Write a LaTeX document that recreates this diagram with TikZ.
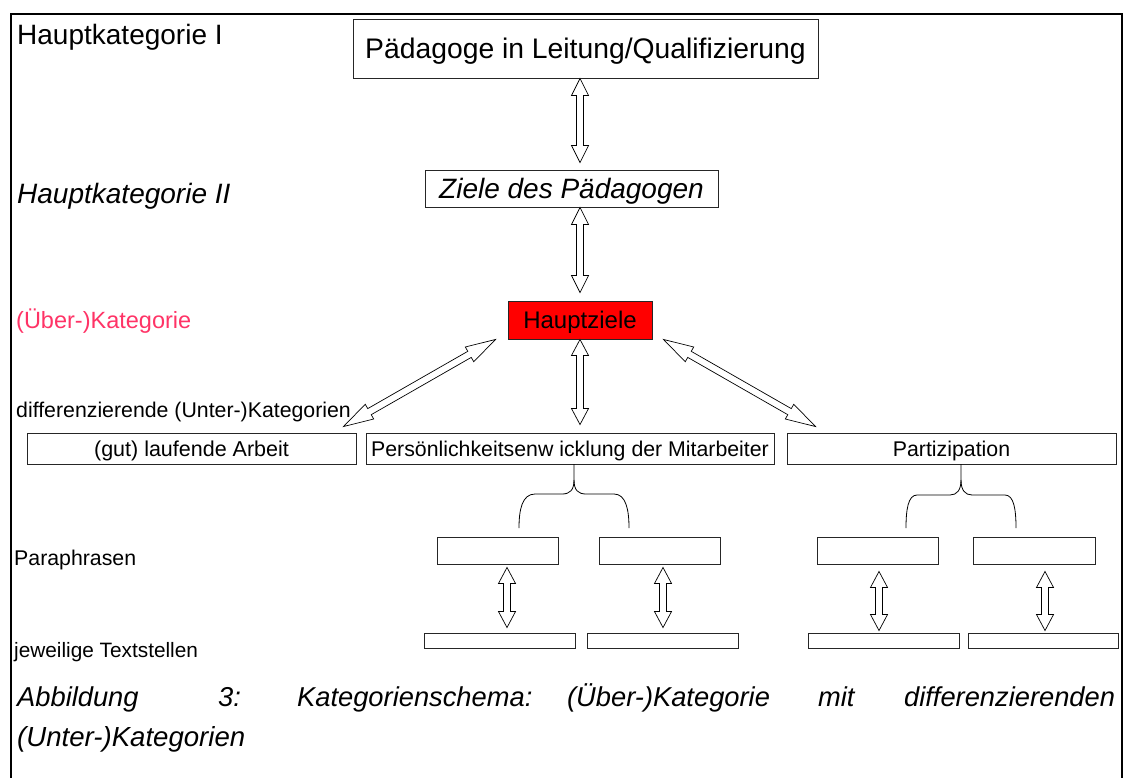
\documentclass[tikz,border=0pt]{standalone}
\usepackage{fontspec}
\setmainfont{Liberation Sans}
\usetikzlibrary{calc}
\definecolor{pinklab}{RGB}{255,51,102}
\definecolor{boxred}{RGB}{255,0,0}
\newcommand\fsz[1]{\fontsize{#1}{#1}\selectfont}
\newcommand\capword[2]{\makebox[#1][l]{#2 }}
\tikzset{
  box/.style={draw=black!85, line width=0.9pt, fill=white, rectangle, inner sep=0pt, anchor=center, text depth=0pt},
  lab/.style={anchor=base west, inner sep=0pt},
  blockarr/.style={draw=black, line width=0.7pt, fill=white, line join=miter},
  bracepath/.style={draw=black, line width=0.8pt},
}
% double-headed block arrow between two points: #1 start, #2 end, #3 head length
\newcommand\blockarrow[3]{%
  \path coordinate (hA) at ($(#1)!#3!(#2)$) coordinate (hB) at ($(#2)!#3!(#1)$);
  \draw[blockarr] (#1) -- ($(hA)!8.5pt!90:(#2)$) -- ($(hA)!3.5pt!90:(#2)$)
    -- ($(hB)!3.5pt!-90:(#1)$) -- ($(hB)!8.5pt!-90:(#1)$) -- (#2)
    -- ($(hB)!8.5pt!90:(#1)$) -- ($(hB)!3.5pt!90:(#1)$)
    -- ($(hA)!3.5pt!-90:(#2)$) -- ($(hA)!8.5pt!-90:(#2)$) -- cycle;}
\begin{document}
\begin{tikzpicture}[x=1pt,y=-1pt]
\useasboundingbox (0,0) rectangle (1123,778);
% frame
\draw[line width=2.5pt] (11,778) -- (11,14) -- (1122,14) -- (1122,778);

% level labels
\node[lab] (l1) at (17,45) {\fsz{28}Hauptkategorie I};
\node[lab] (l2) at (17,203) {\fsz{28}\itshape Hauptkategorie II};
\node[lab, text=pinklab] (l3) at (16,328) {\fsz{23.5}(Über-)Kategorie};
\node[lab] (l4) at (16,417) {\fsz{21.3}differenzierende (Unter-)Kategorien};
\node[lab] (l5) at (14,565) {\fsz{21.3}Paraphrasen};
\node[lab] (l6) at (14,657) {\fsz{20.8}jeweilige Textstellen};

% main boxes
\node[box, text height=20.3pt, minimum width=465pt, minimum height=59pt] (p1) at (585.5,48.5) {\fsz{28.3}Pädagoge in Leitung/Qualifizierung};
\node[box, text height=20pt, minimum width=293pt, minimum height=37pt] (z) at (571.5,188.5) {\fsz{28}\itshape Ziele des Pädagogen};
\node[box, text height=17.2pt, fill=boxred, minimum width=144pt, minimum height=38pt] (hz) at (580,320) {\fsz{24}Hauptziele};

\node[box, text height=15.3pt, minimum width=329pt, minimum height=31pt] (u1) at (191.5,448.5) {\fsz{21.5}(gut) laufende Arbeit};
\node[box, text height=15.3pt, minimum width=408pt, minimum height=31pt] (u2) at (570,448.5) {\fsz{21.3}Persönlichkeitsenw icklung der Mitarbeiter};
\node[box, text height=15.3pt, minimum width=329pt, minimum height=31pt] (u3) at (951.5,448.5) {\fsz{21.3}Partizipation};

% paraphrase boxes
\node[box, minimum width=121pt, minimum height=27pt] (pa1) at (497.5,550.5) {};
\node[box, minimum width=121pt, minimum height=27pt] (pa2) at (659.5,550.5) {};
\node[box, minimum width=121pt, minimum height=27pt] (pa3) at (877.5,550.5) {};
\node[box, minimum width=122pt, minimum height=27pt] (pa4) at (1034,550.5) {};

% text passage boxes
\node[box, minimum width=151pt, minimum height=15pt] (ts1) at (499.5,640.5) {};
\node[box, minimum width=151pt, minimum height=15pt] (ts2) at (662.5,640.5) {};
\node[box, minimum width=151pt, minimum height=15pt] (ts3) at (883.5,640.5) {};
\node[box, minimum width=150pt, minimum height=15pt] (ts4) at (1043,640.5) {};

% arrows
\blockarrow{p1.south -| hz}{$(z.north -| hz)+(0,-7)$}{17pt}
\blockarrow{z.south -| hz}{$(hz.north)+(0,-8)$}{17pt}
\blockarrow{hz.south}{$(u2.north -| hz)+(0,-8)$}{16pt}
\blockarrow{$(hz.south west)+(-12,0)$}{$(u1.north east)+(-13,-6)$}{30pt}
\blockarrow{$(hz.south east)+(11,0)$}{$(u3.north west)+(29,-6)$}{30pt}
\blockarrow{$(pa1.south)+(9.5,3)$}{$(ts1.north)+(7.5,-5)$}{16pt}
\blockarrow{$(pa2.south)+(3.5,3)$}{$(ts2.north)+(0.5,-5)$}{16pt}
\blockarrow{$(pa3.south)+(1.5,7)$}{$(ts3.north)+(-4.5,-2)$}{16pt}
\blockarrow{$(pa4.south)+(11,7)$}{$(ts4.north)+(2,-2)$}{16pt}

% braces
\draw[bracepath] (574,464) -- (574,480) .. controls (574,490) and (570,494) .. (562,494) -- (535,494) .. controls (522,494) and (519,510) .. (519,528);
\draw[bracepath] (574,480) .. controls (574,490) and (578,494) .. (586,494) -- (614,494) .. controls (626,494) and (629,510) .. (629,528);
\draw[bracepath] (961,464) -- (961,480) .. controls (961,490) and (957,495) .. (950,495) -- (917,495) .. controls (908,495) and (906,510) .. (906,528);
\draw[bracepath] (961,480) .. controls (961,490) and (965,495) .. (972,495) -- (1005,495) .. controls (1014,495) and (1016,510) .. (1016,528);

% caption
\node[lab] (cap1) at (17,706) {\fsz{27.3}\itshape\capword{201pt}{Abbildung}\capword{79pt}{3:}\capword{270pt}{Kategorienschema:}\capword{251pt}{(Über-)Kategorie}\capword{86pt}{mit}differenzierenden};
\node[lab] (cap2) at (17,746) {\fsz{27.6}\itshape (Unter-)Kategorien};
\end{tikzpicture}
\end{document}
